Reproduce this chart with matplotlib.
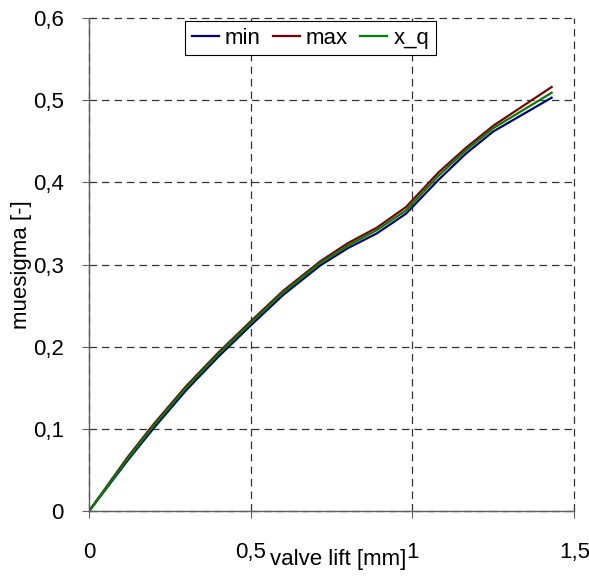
import matplotlib
matplotlib.use("Agg")
from matplotlib import pyplot as plt

plt.rcParams['font.family'] = ['Liberation Sans', 'DejaVu Sans']

# valve lift [mm]
lift = [0, 0.06, 0.12, 0.2, 0.3, 0.4, 0.5, 0.6, 0.715, 0.8, 0.89, 0.98, 1.08, 1.165, 1.25, 1.43]
# muesigma [-]
mu_min = [0, 0.031, 0.062, 0.101, 0.147, 0.188, 0.226, 0.263, 0.299, 0.320, 0.338, 0.362, 0.403, 0.435, 0.462, 0.503]
mu_max = [0, 0.033, 0.066, 0.106, 0.152, 0.193, 0.231, 0.268, 0.304, 0.326, 0.345, 0.370, 0.412, 0.442, 0.469, 0.516]
mu_xq = [0, 0.032, 0.064, 0.104, 0.150, 0.191, 0.229, 0.266, 0.302, 0.323, 0.342, 0.366, 0.408, 0.439, 0.466, 0.509]

xticks = [0, 0.5, 1, 1.5]
xlabels = ["0", "0,5", "1", "1,5"]
yticks = [0, 0.1, 0.2, 0.3, 0.4, 0.5, 0.6]
ylabels = ["0", "0,1", "0,2", "0,3", "0,4", "0,5", "0,6"]

fig = plt.figure(figsize=(5.89, 5.79), dpi=100)
ax = fig.add_axes([0.151, 0.117, 0.824, 0.852])

ax.plot(lift, mu_min, color="#000080", lw=1.6, label="min")
ax.plot(lift, mu_max, color="#800000", lw=1.6, label="max")
ax.plot(lift, mu_xq, color="#008000", lw=1.6, label="x_q")

ax.set_xlim(0, 1.5)
ax.set_ylim(0, 0.6)
ax.set_xticks(xticks)
ax.set_xticklabels(xlabels)
ax.set_yticks(yticks)
ax.set_yticklabels(ylabels)

ax.grid(True, color="#333333", linestyle=(0, (6, 4)), linewidth=0.9)
ax.set_axisbelow(True)
for gl in ax.get_xgridlines() + ax.get_ygridlines():
    gl.set_clip_on(False)
for s in ["top", "right"]:
    ax.spines[s].set_visible(False)
for s in ["left", "bottom"]:
    ax.spines[s].set_color("#606060")
    ax.spines[s].set_linewidth(1.0)

ax.tick_params(axis="x", direction="out", length=5, pad=17, labelsize=16, color="#606060")
ax.tick_params(axis="y", direction="out", length=5, pad=13, labelsize=16, color="#606060")

ax.set_xlabel("valve lift [mm]", fontsize=16)
ax.xaxis.set_label_coords(0.513, -0.077)
ax.set_ylabel("muesigma [-]", fontsize=16)
ax.yaxis.set_label_coords(-0.1175, 0.5)

leg = ax.legend(loc="upper left", bbox_to_anchor=(0.198, 0.994), ncol=3,
                fontsize=16, fancybox=False, framealpha=1, edgecolor="black",
                borderaxespad=0, handlelength=1.23, handletextpad=0.27,
                columnspacing=0.53, borderpad=0.3)
leg.get_frame().set_linewidth(0.8)

fig.savefig("out.png", dpi=100)
